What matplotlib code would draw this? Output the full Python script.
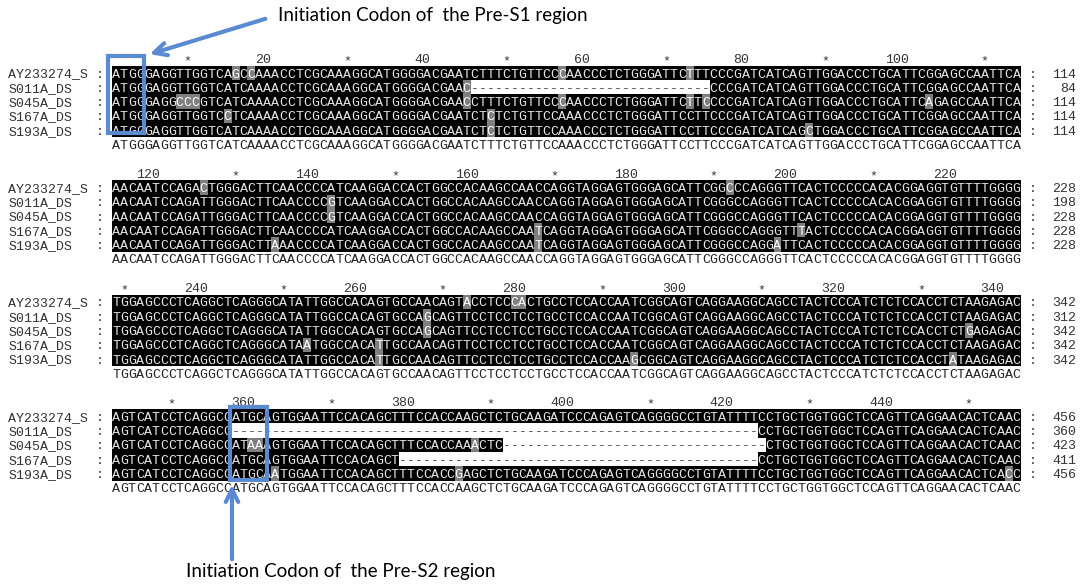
import matplotlib
matplotlib.use("Agg")
import matplotlib.pyplot as plt
from matplotlib.patches import Rectangle

# sequence names
names = ["AY233274_S", "S011A_DS", "S045A_DS", "S167A_DS", "S193A_DS"]

# consensus, one string per alignment block (114 columns each)
consensus_blocks = [
    "ATGGGAGGTTGGTCATCAAAACCTCGCAAAGGCATGGGGACGAATCTTTCTGTTCCAAACCCTCTGGGATTCCTTCCCGATCATCAGTTGGACCCTGCATTCGGAGCCAATTCA",
    "AACAATCCAGATTGGGACTTCAACCCCATCAAGGACCACTGGCCACAAGCCAACCAGGTAGGAGTGGGAGCATTCGGGCCAGGGTTCACTCCCCCACACGGAGGTGTTTTGGGG",
    "TGGAGCCCTCAGGCTCAGGGCATATTGGCCACAGTGCCAACAGTTCCTCCTCCTGCCTCCACCAATCGGCAGTCAGGAAGGCAGCCTACTCCCATCTCTCCACCTCTAAGAGAC",
    "AGTCATCCTCAGGCCATGCAGTGGAATTCCACAGCTTTCCACCAAGCTCTGCAAGATCCCAGAGTCAGGGGCCTGTATTTTCCTGCTGGTGGCTCCAGTTCAGGAACACTCAAC",
]

# differences from the consensus: (alignment position, base)
mut_ay = [(16, "G"), (18, "C"), (57, "C"), (73, "T"), (126, "C"), (192, "C"),
          (273, "A"), (279, "C"), (280, "A")]
mut_s011 = [(45, "C"), (142, "G"), (268, "G")]
mut_s045 = [(9, "C"), (10, "C"), (11, "C"), (45, "C"), (57, "C"), (73, "T"), (75, "C"),
            (103, "A"), (142, "G"), (268, "G"), (336, "G"), (360, "A"), (361, "A"), (388, "A")]
mut_s167 = [(15, "C"), (48, "C"), (168, "T"), (201, "T"), (253, "A"), (262, "T")]
mut_s193 = [(48, "C"), (88, "C"), (135, "A"), (168, "T"), (198, "A"), (262, "T"),
            (294, "G"), (334, "A"), (363, "A"), (386, "G"), (455, "C")]
mutations = [mut_ay, mut_s011, mut_s045, mut_s167, mut_s193]

# gaps: (first, last) alignment position
gaps = [[], [(46, 75), (358, 423)], [(392, 424)], [(379, 423)], []]

top_label = "Initiation Codon of  the Pre-S1 region"
bottom_label = "Initiation Codon of  the Pre-S2 region"

BLOCK = 114
CW = 7.97     # pixels per column
LH = 14.3     # pixels per line
X0, Y0 = 112, 58.7
W, H = 1086, 587

cons = "".join(consensus_blocks)
seqs = []
for muts, gp in zip(mutations, gaps):
    s = list(cons)
    for pos, b in muts:
        s[pos - 1] = b
    for a, b in gp:
        for p in range(a, b + 1):
            s[p - 1] = "-"
    seqs.append(s)

fig = plt.figure(figsize=(W / 100, H / 100), dpi=100)
ax = fig.add_axes([0, 0, 1, 1])
ax.set_xlim(-X0 / CW, (W - X0) / CW)
ax.set_ylim((H - Y0) / LH, -Y0 / LH)
ax.axis("off")

mono = dict(family="Liberation Mono", fontsize=9.56, va="center_baseline")

for blk in range(len(consensus_blocks)):
    base = 8 * blk
    start = blk * BLOCK

    # ruler
    for c in range(BLOCK):
        p = start + c + 1
        if p % 20 == 0:
            ax.text(c + 1, base, str(p), ha="right", color="#333333", **mono)
        elif p % 10 == 0:
            ax.text(c + 0.5, base + 0.1, "*", ha="center", color="#333333", **mono)

    # black shading for the block
    ax.add_patch(Rectangle((0, base + 0.5), BLOCK, len(names), color="black", lw=0))

    for k, name in enumerate(names):
        y = base + 1 + k
        s = seqs[k]
        ax.text(-13, y, name, ha="left", color="#333333", **mono)
        ax.text(-1.5, y, ":", ha="center", color="#333333", **mono)
        for c in range(BLOCK):
            ch = s[start + c]
            if ch == "-":
                ax.add_patch(Rectangle((c, y - 0.5), 1, 1, color="white", lw=0))
                fg = "#444444"
            elif ch != cons[start + c]:
                ax.add_patch(Rectangle((c, y - 0.5), 1, 1, color="#7f7f7f", lw=0))
                fg = "white"
            else:
                fg = "#e6e6e6"
            ax.text(c + 0.5, y, ch, ha="center", color=fg, **mono)
        count = sum(1 for ch in s[:start + BLOCK] if ch != "-")
        ax.text(115.5, y, ":", ha="center", color="#333333", **mono)
        ax.text(121, y, str(count), ha="right", color="#333333", **mono)

    # consensus line
    for c in range(BLOCK):
        ax.text(c + 0.5, base + 6, cons[start + c], ha="center", color="#222222", **mono)

# annotations in pixel coordinates
ov = fig.add_axes([0, 0, 1, 1])
ov.set_xlim(0, W)
ov.set_ylim(H, 0)
ov.axis("off")
ov.patch.set_alpha(0)
blue = "#5a8bd2"

ov.add_patch(Rectangle((107.5, 56), 36.5, 77, fill=False, ec=blue, lw=3))
ov.annotate("", xy=(147, 55), xytext=(268, 18),
            arrowprops=dict(arrowstyle="->,head_length=0.9,head_width=0.45", color=blue, lw=3))
ov.text(278, 15, top_label, family="Lato", fontsize=13.5, va="center", ha="left", color="black")

ov.add_patch(Rectangle((230, 407), 37, 73, fill=False, ec=blue, lw=3))
ov.annotate("", xy=(232, 482), xytext=(232, 562),
            arrowprops=dict(arrowstyle="->,head_length=0.9,head_width=0.45", color=blue, lw=3))
ov.text(186, 572, bottom_label, family="Lato", fontsize=13.5, va="center", ha="left", color="black")

fig.savefig("out.png", dpi=100)
